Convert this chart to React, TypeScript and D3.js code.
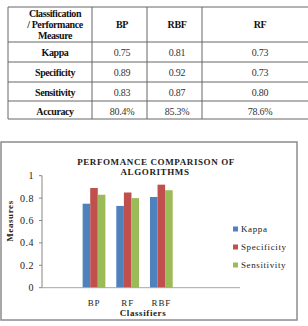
import React from 'react';
import * as d3 from 'd3';

// Summary table
const tableHeader = ['BP', 'RBF', 'RF'];
const tableRowLabels = ['Kappa', 'Specificity', 'Sensitivity', 'Accuracy'];
const tableKappa = ['0.75', '0.81', '0.73'];
const tableSpecificity = ['0.89', '0.92', '0.73'];
const tableSensitivity = ['0.83', '0.87', '0.80'];
const tableAccuracy = ['80.4%', '85.3%', '78.6%'];

// Bar chart
const categorySlots = ['', 'BP', 'RF', 'RBF', '', ''];
const measures = ['Kappa', 'Specificity', 'Sensitivity'];
const kappa = [0.75, 0.73, 0.81];
const specificity = [0.89, 0.85, 0.92];
const sensitivity = [0.83, 0.8, 0.87];
const yTicks = [0, 0.2, 0.4, 0.6, 0.8, 1];

const colors = ['#4F81BD', '#C0504D', '#9BBB59'];
const serif = "'Liberation Serif', 'DejaVu Serif', serif";

const App = () => {
  const width = 308;
  const height = 326;

  // table layout
  const rowEdges = [7, 42, 62, 82, 101, 119];
  const colEdges = [8, 92, 147, 202, 318];
  const textCenters = [55, 122, 177, 260];
  const tableValues = [tableKappa, tableSpecificity, tableSensitivity, tableAccuracy];

  // chart layout
  const plot = { left: 42, right: 244, top: 175.7, bottom: 287.7 };
  const y = d3.scaleLinear().domain([0, 1]).range([plot.bottom, plot.top]);
  const x = d3
    .scaleBand<number>()
    .domain(d3.range(categorySlots.length))
    .range([plot.left + 1.5, plot.right + 1.5]);
  const groupWidth = x.bandwidth() * 0.675;
  const xInner = d3.scaleBand<number>().domain(d3.range(measures.length)).range([0, groupWidth]);
  const series = [kappa, specificity, sensitivity];
  const classifiers = categorySlots.filter((c) => c !== '');

  const txt = { fontFamily: serif };

  return (
    <svg width={width} height={height} style={{ position: 'absolute', left: 0, top: 0, background: '#fff' }}>
      {/* table */}
      <g>
        {rowEdges.map((ry, i) => (
          <line key={'h' + i} x1={colEdges[0]} x2={width} y1={ry} y2={ry} stroke="#666" strokeWidth={1} />
        ))}
        {colEdges.slice(0, 4).map((cx, i) => (
          <line key={'v' + i} x1={cx} x2={cx} y1={rowEdges[0]} y2={rowEdges[rowEdges.length - 1]} stroke="#666" strokeWidth={1} />
        ))}
        <g fontWeight="bold" fontSize={10} letterSpacing={-0.4} textAnchor="middle" fill="#111">
          <text style={txt} x={textCenters[0]} y={17}>Classification</text>
          <text style={txt} x={textCenters[0]} y={28}>/ Performance</text>
          <text style={txt} x={textCenters[0]} y={39}>Measure</text>
          {tableHeader.map((h, i) => (
            <text style={txt} key={h} x={textCenters[i + 1]} y={28}>{h}</text>
          ))}
          {tableRowLabels.map((r, i) => (
            <text style={txt} key={r} x={textCenters[0]} y={rowEdges[i + 1] + 14}>{r}</text>
          ))}
        </g>
        <g fontSize={10} letterSpacing={-0.3} textAnchor="middle" fill="#333">
          {tableValues.map((row, ri) =>
            row.map((v, ci) => (
              <text style={txt} key={ri + '-' + ci} x={textCenters[ci + 1]} y={rowEdges[ri + 1] + 14}>{v}</text>
            ))
          )}
        </g>
      </g>

      {/* chart frame */}
      <rect x={1} y={142} width={296} height={178} fill="#fff" stroke="#8c8c8c" strokeWidth={1.5} />

      <g style={txt} fill="#222">
        <text x={156} y={165} fontSize={9} fontWeight="bold" letterSpacing={0.6} textAnchor="middle">
          PERFOMANCE COMPARISON OF
        </text>
        <text x={155} y={175} fontSize={9} fontWeight="bold" letterSpacing={0.6} textAnchor="middle">
          ALGORITHMS
        </text>

        {/* bars */}
        {classifiers.map((c, ci) => {
          const slot = categorySlots.indexOf(c);
          const gx = (x(slot) as number) + (x.bandwidth() - groupWidth) / 2;
          return (
            <g key={c} transform={`translate(${gx},0)`}>
              {series.map((vals, si) => (
                <rect
                  key={measures[si]}
                  x={xInner(si)}
                  y={y(vals[ci])}
                  width={xInner.bandwidth()}
                  height={y(0) - y(vals[ci])}
                  fill={colors[si]}
                />
              ))}
            </g>
          );
        })}

        {/* y axis */}
        <line x1={plot.left} x2={plot.left} y1={plot.top} y2={plot.bottom} stroke="#868686" />
        {yTicks.map((t) => (
          <g key={t}>
            <line x1={plot.left - 3} x2={plot.left} y1={y(t)} y2={y(t)} stroke="#868686" />
            <text x={34} y={y(t) + 3.5} fontSize={10} letterSpacing={0.5} textAnchor="end">
              {d3.format('~g')(t)}
            </text>
          </g>
        ))}

        {/* x axis */}
        <line x1={plot.left} x2={240} y1={plot.bottom} y2={plot.bottom} stroke="#a6a6a6" />
        {classifiers.map((c) => {
          const slot = categorySlots.indexOf(c);
          return (
            <text key={c} x={(x(slot) as number) + x.bandwidth() / 2} y={306} fontSize={9} letterSpacing={0.8} textAnchor="middle">
              {c}
            </text>
          );
        })}
        <text x={143} y={316} fontSize={9} fontWeight="bold" letterSpacing={0.6} textAnchor="middle">
          Classifiers
        </text>
        <text
          transform={`translate(13,221) rotate(-90)`}
          fontSize={9}
          fontWeight="bold"
          letterSpacing={0.6}
          textAnchor="middle"
        >
          Measures
        </text>

        {/* legend */}
        {measures.map((m, i) => (
          <g key={m} transform={`translate(233,${229 + i * 18})`}>
            <rect x={0} y={-2.5} width={5} height={5} fill={colors[i]} />
            <text x={8} y={3} fontSize={9} letterSpacing={0.6}>{m}</text>
          </g>
        ))}
      </g>
    </svg>
  );
};

export default App;
